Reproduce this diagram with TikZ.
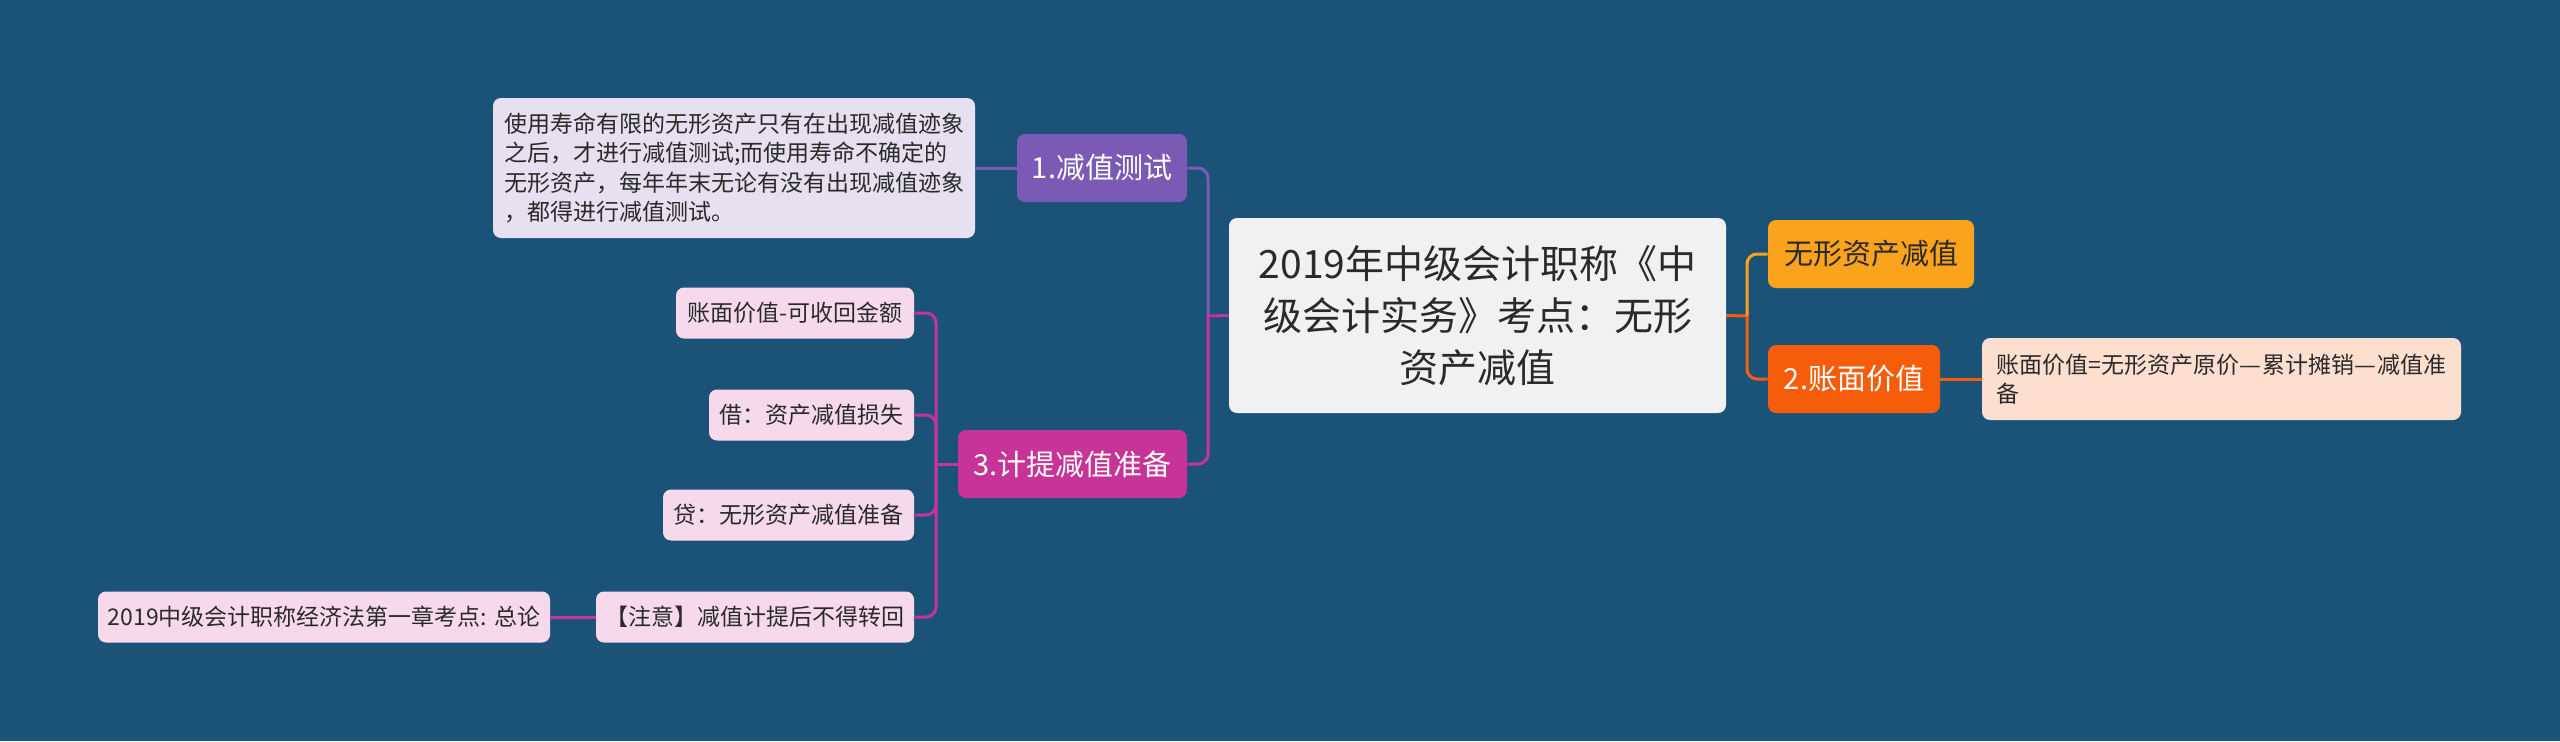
\documentclass[tikz,border=0pt]{standalone}
\usepackage{fontspec}
\usepackage{graphicx}
\setmainfont{Noto Sans CJK SC}
\definecolor{bg}{HTML}{1B5378}
\definecolor{cfill}{HTML}{F1F1F1}
\definecolor{purp}{HTML}{7B5AB6}
\definecolor{purpl}{HTML}{E6E0F0}
\definecolor{mag}{HTML}{C63498}
\definecolor{pinkl}{HTML}{F6DAEC}
\definecolor{orgy}{HTML}{FBA31C}
\definecolor{orgr}{HTML}{F65D0B}
\definecolor{peach}{HTML}{FDDFD0}
\definecolor{txt}{HTML}{2A2A2A}
\newcommand{\wdash}{\makebox[1em]{\resizebox{0.95em}{\height}{—}}}
\tikzset{
  x=0.5pt, y=-0.5pt,
  box/.style={rounded corners=4pt, inner sep=0pt, align=center, text=txt},
  centralbox/.style={box, fill=cfill, font=\fontsize{19.5}{26}\selectfont},
  midbox/.style={box, font=\fontsize{14.5}{18}\selectfont, minimum height=34pt},
  smallbox/.style={box, fill=pinkl, font=\fontsize{11.5}{14.7}\selectfont, minimum height=25.5pt},
  link/.style={line width=1.5pt, rounded corners=5pt},
}
\begin{document}
\begin{tikzpicture}
\fill[bg] (0,0) rectangle (2560,741);
\useasboundingbox (0,0) rectangle (2560,741);

% central
\node[centralbox, minimum width=248.5pt, minimum height=97.5pt] (central) at (1477.5,315.5)
  {2019年中级会计职称《中\\级会计实务》考点：无形\\资产减值};

% left branch
\node[midbox, fill=purp, text=white, minimum width=85pt] (n1) at (1102,168) {1.减值测试};
\node[box, fill=purpl, minimum width=241pt, minimum height=70pt, align=left,
      font=\fontsize{11.5}{14.7}\selectfont] (note1) at (734,168)
  {使用寿命有限的无形资产只有在出现减值迹象\\之后，才进行减值测试;而使用寿命不确定的\\无形资产，每年年末无论有没有出现减值迹象\\，都得进行减值测试。};

\node[midbox, fill=mag, text=white, minimum width=114.5pt] (n3) at (1072.5,464) {3.计提减值准备};
\node[smallbox, minimum width=119pt] (c1) at (795,313) {账面价值-可收回金额};
\node[smallbox, minimum width=102.5pt] (c2) at (811.5,415) {借：资产减值损失};
\node[smallbox, minimum width=125.5pt] (c3) at (788.5,515) {贷：无形资产减值准备};
\node[smallbox, minimum width=159pt] (c4) at (755,617) {【注意】减值计提后不得转回};
\node[smallbox, minimum width=226pt] (c5) at (324,617) {2019中级会计职称经济法第一章考点: 总论};

% right branch
\node[midbox, fill=orgy, minimum width=103pt] (r1) at (1871,254) {无形资产减值};
\node[midbox, fill=orgr, text=white, minimum width=86pt] (r2) at (1854,379) {2.账面价值};
\node[box, fill=peach, minimum width=239.5pt, minimum height=41pt, align=left,
      font=\fontsize{11.5}{14.7}\selectfont] (note2) at (2221.5,379)
  {账面价值=无形资产原价\wdash 累计摊销\wdash 减值准\\备\hphantom{账面价值=无形资产原价\wdash 累计摊销\wdash 减值}};

% connectors left
\coordinate (jl) at (1208,316);
\coordinate (jb) at (936,464);
\draw[link, draw=mag] (central.west) -- (jl);
\draw[link, draw=purp] (jl) |- (n1.east);
\draw[link, draw=mag] (jl) |- (n3.east);
\draw[link, draw=purp] (n1.west) -- (note1.east);
\draw[link, draw=mag] (n3.west) -- (jb);
\draw[link, draw=mag] (jb) |- (c1.east);
\draw[link, draw=mag] (jb) |- (c2.east);
\draw[link, draw=mag] (jb) |- (c3.east);
\draw[link, draw=mag] (jb) |- (c4.east);
\draw[link, draw=mag] (c4.west) -- (c5.east);

% connectors right
\coordinate (jr) at (1747,316);
\draw[link, draw=orgr] (central.east) -- (jr);
\draw[link, draw=orgy] (jr) |- (r1.west);
\draw[link, draw=orgr] (jr) |- (r2.west);
\draw[link, draw=orgr] (r2.east) -- (note2.west);
\end{tikzpicture}
\end{document}
